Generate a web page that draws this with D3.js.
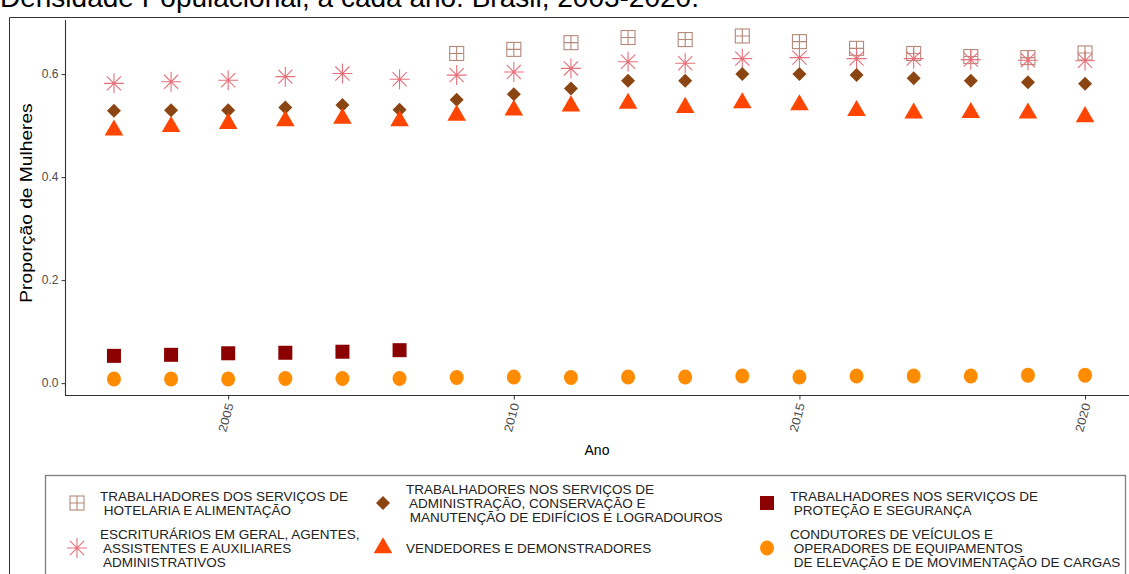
<!DOCTYPE html>
<html>
<head>
<meta charset="utf-8">
<script src="https://cdn.jsdelivr.net/npm/d3@7"></script>
<style>
  html, body { margin: 0; padding: 0; background: #fff; }
  svg { display: block; font-family: Arial, "Liberation Sans", sans-serif; }
  text { white-space: pre; }
</style>
</head>
<body>
<svg id="chart" width="1129" height="574"></svg>
<script>
// Years on the x axis
const years = [2003, 2004, 2005, 2006, 2007, 2008, 2009, 2010, 2011, 2012,
               2013, 2014, 2015, 2016, 2017, 2018, 2019, 2020];

// Proportion of women per occupational group (null = no data that year)
const hotelaria = [null, null, null, null, null, null, 0.640, 0.648, 0.661, 0.671,
                   0.667, 0.674, 0.663, 0.650, 0.640, 0.634, 0.632, 0.641];
const escriturarios = [0.582, 0.585, 0.588, 0.595, 0.601, 0.590, 0.598, 0.604, 0.611, 0.624,
                       0.621, 0.630, 0.632, 0.630, 0.630, 0.628, 0.627, 0.626];
const administracao = [0.529, 0.530, 0.530, 0.535, 0.540, 0.531, 0.550, 0.561, 0.572, 0.587,
                       0.587, 0.600, 0.600, 0.598, 0.592, 0.587, 0.584, 0.581];
const vendedores = [0.491, 0.498, 0.504, 0.509, 0.514, 0.509, 0.520, 0.530, 0.538, 0.543,
                    0.535, 0.544, 0.540, 0.529, 0.524, 0.525, 0.524, 0.517];
const protecao = [0.053, 0.055, 0.058, 0.059, 0.061, 0.064, null, null, null, null,
                  null, null, null, null, null, null, null, null];
const condutores = [0.008, 0.008, 0.008, 0.009, 0.009, 0.009, 0.011, 0.012, 0.011, 0.012,
                    0.012, 0.014, 0.012, 0.014, 0.014, 0.014, 0.0155, 0.0155];

const xTicks = [2005, 2010, 2015, 2020];
const yTicks = [0.0, 0.2, 0.4, 0.6];

const titleText = "Densidade Populacional, a cada ano. Brasil, 2003-2020.";
const xTitle = "Ano";
const yTitle = "Proporção de Mulheres";

// Series definitions: label lines, marker type, colour
const series = [
  { key: "hotelaria", values: hotelaria, shape: "boxplus", color: "#b4897a",
    label: ["TRABALHADORES DOS SERVIÇOS DE", " HOTELARIA E ALIMENTAÇÃO"] },
  { key: "escriturarios", values: escriturarios, shape: "asterisk", color: "#e8707a",
    label: ["ESCRITURÁRIOS EM GERAL, AGENTES,", " ASSISTENTES E AUXILIARES", " ADMINISTRATIVOS"] },
  { key: "administracao", values: administracao, shape: "diamond", color: "#8b4513",
    label: ["TRABALHADORES NOS SERVIÇOS DE", " ADMINISTRAÇÃO, CONSERVAÇÃO E", " MANUTENÇÃO DE EDIFÍCIOS E LOGRADOUROS"] },
  { key: "vendedores", values: vendedores, shape: "triangle", color: "#ff4500",
    label: ["VENDEDORES E DEMONSTRADORES"] },
  { key: "protecao", values: protecao, shape: "square", color: "#8b0000",
    label: ["TRABALHADORES NOS SERVIÇOS DE", " PROTEÇÃO E SEGURANÇA"] },
  { key: "condutores", values: condutores, shape: "circle", color: "#ff8c00",
    label: ["CONDUTORES DE VEÍCULOS E", " OPERADORES DE EQUIPAMENTOS", " DE ELEVAÇÃO E DE MOVIMENTAÇÃO DE CARGAS"] }
];

const svg = d3.select("#chart");

// Title (its upper half lies above the top edge of the figure)
svg.append("text")
  .attr("x", 0).attr("y", 7)
  .attr("font-size", 28).attr("fill", "#000")
  .text(titleText);

// Outer figure frame
svg.append("path")
  .attr("d", "M9.5,600 V17.5 H1140")
  .attr("fill", "none").attr("stroke", "#333").attr("stroke-width", 1);

// Scales
const x = d3.scaleLinear().domain([2002.15, 2020.85]).range([65.4, 1133.6]);
const y = d3.scaleLinear().domain([-0.023, 0.705]).range([395, 20]);

// Axes
const yAxis = d3.axisLeft(y).tickValues(yTicks).tickFormat(d3.format(".1f")).tickSize(4).tickPadding(3);
const gy = svg.append("g").attr("transform", "translate(65.5,0)").call(yAxis);
gy.select(".domain").attr("stroke", "#333").attr("stroke-width", 1.1).attr("d", "M0,20V395.5");
gy.selectAll(".tick line").attr("stroke", "#333");
gy.selectAll(".tick text").attr("font-size", 12).attr("fill", "#4d4d4d")
  .attr("font-family", "Arial, 'Liberation Sans', sans-serif");

const xAxis = d3.axisBottom(x).tickValues(xTicks).tickFormat(d3.format("d")).tickSize(4);
const gx = svg.append("g").attr("transform", "translate(0,395.5)").call(xAxis);
gx.select(".domain").attr("stroke", "#333").attr("stroke-width", 1.1).attr("d", "M65,0H1140");
gx.selectAll(".tick line").attr("stroke", "#333");
gx.selectAll(".tick text")
  .attr("font-size", 12).attr("fill", "#4d4d4d")
  .attr("font-family", "Arial, 'Liberation Sans', sans-serif")
  .attr("text-anchor", "end")
  .attr("dy", null)
  .attr("transform", "translate(5,9) rotate(-75) scale(1.1,1)")
  .attr("y", 0).attr("x", 0);

// Axis titles
svg.append("text")
  .attr("x", 597).attr("y", 455)
  .attr("text-anchor", "middle").attr("font-size", 14).attr("fill", "#000")
  .text(xTitle);
svg.append("text")
  .attr("transform", "translate(32,203) rotate(-90) scale(1.2,1)")
  .attr("text-anchor", "middle").attr("font-size", 16).attr("fill", "#000")
  .text(yTitle);

// Marker drawing
function drawMarker(g, shape, color) {
  switch (shape) {
    case "boxplus":
      g.append("rect").attr("x", -7).attr("y", -7).attr("width", 14).attr("height", 14)
        .attr("fill", "none").attr("stroke", color).attr("stroke-width", 1.1);
      g.append("path").attr("d", "M-7,0H7M0,-7V7")
        .attr("fill", "none").attr("stroke", color).attr("stroke-width", 1.1);
      break;
    case "asterisk": {
      const r = 10, s = r * Math.SQRT1_2;
      g.append("path")
        .attr("d", `M${-r},0H${r}M0,${-r}V${r}M${-s},${-s}L${s},${s}M${-s},${s}L${s},${-s}`)
        .attr("fill", "none").attr("stroke", color).attr("stroke-width", 1.1);
      break;
    }
    case "diamond":
      g.append("path").attr("d", "M0,-7L7,0L0,7L-7,0Z").attr("fill", color);
      break;
    case "triangle":
      g.append("path").attr("d", d3.symbol(d3.symbolTriangle, 150)()).attr("fill", color);
      break;
    case "square":
      g.append("rect").attr("x", -7).attr("y", -7).attr("width", 14).attr("height", 14).attr("fill", color);
      break;
    case "circle":
      g.append("ellipse").attr("rx", 7).attr("ry", 7.5).attr("fill", color);
      break;
  }
}

// Points
const plot = svg.append("g");
series.forEach(s => {
  const pts = years.map((yr, i) => ({ yr, v: s.values[i] })).filter(d => d.v != null);
  plot.selectAll(null).data(pts).enter().append("g")
    .attr("transform", d => `translate(${x(d.yr)},${y(d.v)})`)
    .each(function () { drawMarker(d3.select(this), s.shape, s.color); });
});

// Legend
const legend = svg.append("g");
legend.append("rect")
  .attr("x", 45.5).attr("y", 475.5).attr("width", 1080).attr("height", 140)
  .attr("fill", "#fff").attr("stroke", "#7f7f7f").attr("stroke-width", 1.3);

const legendPos = [
  { sx: 77, sy: 503, tx: 100 },
  { sx: 77, sy: 548, tx: 100 },
  { sx: 383, sy: 503, tx: 406 },
  { sx: 383, sy: 548, tx: 406 },
  { sx: 767, sy: 503, tx: 790 },
  { sx: 767, sy: 548, tx: 790 }
];
const lineH = 14.2;
series.forEach((s, i) => {
  const p = legendPos[i];
  const g = legend.append("g").attr("transform", `translate(${p.sx},${p.sy})`);
  drawMarker(g, s.shape, s.color);
  const n = s.label.length;
  const t = legend.append("text")
    .attr("font-size", 13.5).attr("fill", "#222");
  s.label.forEach((line, j) => {
    t.append("tspan")
      .attr("x", p.tx)
      .attr("y", p.sy + 5 + (j - (n - 1) / 2) * lineH)
      .text(line);
  });
});
</script>
</body>
</html>
